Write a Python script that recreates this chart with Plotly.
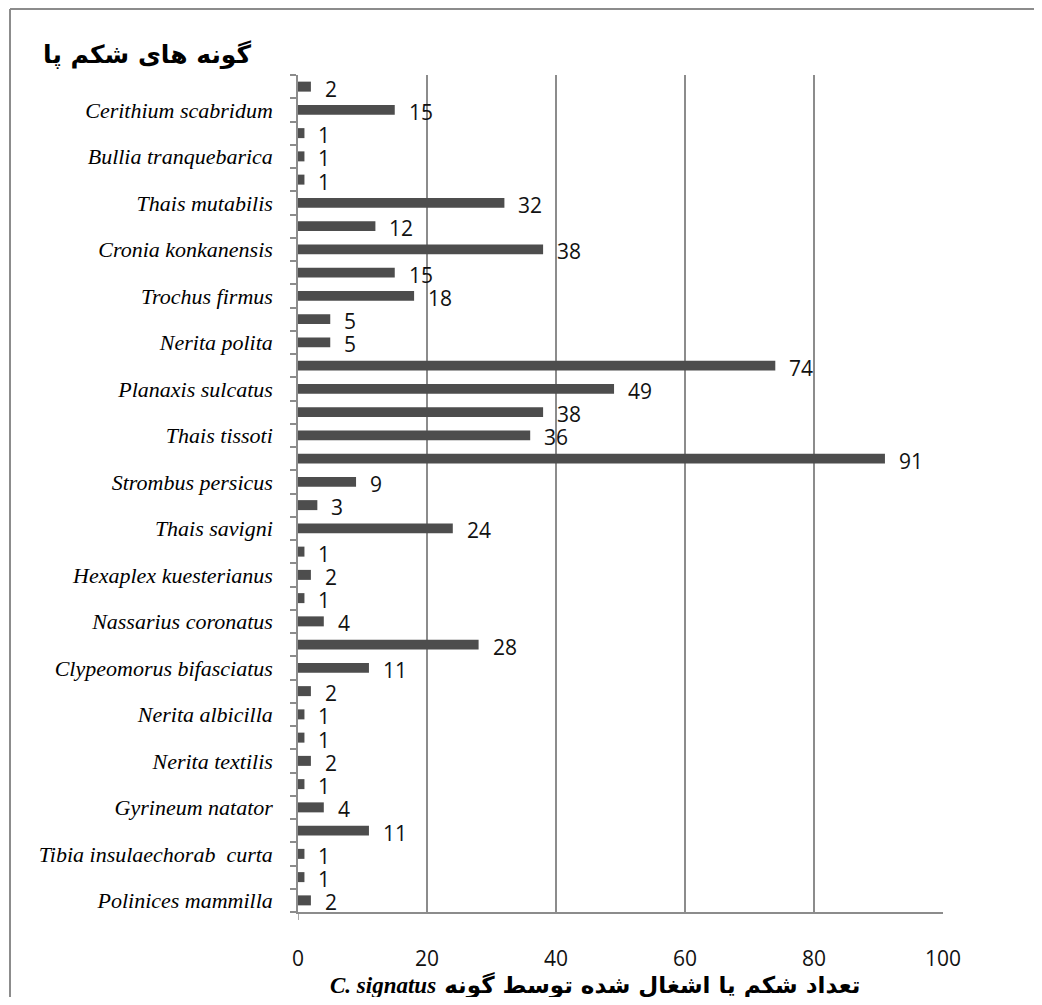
import plotly.graph_objects as go

# Categories from bottom to top ("" = category without a printed label)
categories = [
    "Polinices mammilla", "", "Tibia insulaechorab  curta", "", "Gyrineum natator", "",
    "Nerita textilis", "", "Nerita albicilla", "", "Clypeomorus bifasciatus", "",
    "Nassarius coronatus", "", "Hexaplex kuesterianus", "", "Thais savigni", "",
    "Strombus persicus", "", "Thais tissoti", "", "Planaxis sulcatus", "",
    "Nerita polita", "", "Trochus firmus", "", "Cronia konkanensis", "",
    "Thais mutabilis", "", "Bullia tranquebarica", "", "Cerithium scabridum", "",
]
values = [
    2, 1, 1, 11, 4, 1,
    2, 1, 1, 2, 11, 28,
    4, 1, 2, 1, 24, 3,
    9, 91, 36, 38, 49, 74,
    5, 5, 18, 15, 38, 12,
    32, 1, 1, 1, 15, 2,
]
x_ticks = [0, 20, 40, 60, 80, 100]
title_text = "گونه های شکم پا"
xtitle_fa = "تعداد شکم پا اشغال شده توسط گونه"
xtitle_sp = "C. signatus"

positions = list(range(len(values)))
tick_pos = [i for i, c in enumerate(categories) if c]
tick_txt = [c for c in categories if c]

OFF = 8  # page body margin
W, H = 1042 - 2 * OFF, 1005 - 2 * OFF
# plot area in page pixels: x 298..943, y 75..912
L = 298 - OFF
R = W - (943 - OFF)
T = 75 - OFF
B = H - (912 - OFF)
pw, ph = W - L - R, H - T - B


def px_x(p):
    return (p - OFF - L) / pw


def px_y(p):
    return (H - B - (p - OFF)) / ph


fig = go.Figure()
fig.add_trace(go.Bar(
    x=values, y=positions, orientation="h", width=0.43,
    marker=dict(color="#4d4d4d", line=dict(width=0)),
    hoverinfo="x",
))

annotations = []
for p, v in zip(positions, values):
    annotations.append(dict(
        x=v, y=p, xref="x", yref="y", text=str(v), showarrow=False,
        xanchor="left", yanchor="middle", xshift=12, yshift=-2,
        font=dict(family="Open Sans", size=21, color="#111"),
    ))

annotations.append(dict(
    x=px_x(41), y=px_y(55), xref="paper", yref="paper", text="<b>" + title_text + "</b>",
    showarrow=False, xanchor="left", yanchor="middle",
    font=dict(family="DejaVu Sans", size=25, color="#000"),
))
annotations.append(dict(
    x=px_x(595), y=px_y(985), xref="paper", yref="paper",
    text="<b><i><span style=\"font-family:'Liberation Serif'\">" + xtitle_sp
         + "</span></i> " + xtitle_fa + "</b>",
    showarrow=False, xanchor="center", yanchor="middle",
    font=dict(family="DejaVu Sans", size=23, color="#000"),
))

border = dict(color="#8c8c8c", width=2)
fig.update_layout(
    width=W, height=H,
    margin=dict(l=L, r=R, t=T, b=B, pad=0),
    paper_bgcolor="white", plot_bgcolor="white",
    showlegend=False,
    bargap=0.57,
    annotations=annotations,
    shapes=[
        dict(type="line", xref="paper", yref="paper",
             x0=px_x(10), x1=px_x(10), y0=px_y(1010), y1=px_y(9), line=border),
        dict(type="line", xref="paper", yref="paper",
             x0=px_x(10), x1=px_x(1042), y0=px_y(9), y1=px_y(9), line=border),
        dict(type="line", xref="x", yref="paper",
             x0=0, x1=0, y0=0, y1=px_y(920),
             line=dict(color="#8c8c8c", width=1.5)),
    ],
    xaxis=dict(
        range=[0, 100], tickvals=x_ticks, ticktext=[str(t) for t in x_ticks],
        showgrid=True, gridcolor="#8c8c8c", gridwidth=1.5,
        showline=True, linecolor="#8c8c8c", linewidth=2,
        zeroline=False,
        ticks="outside", ticklen=27, tickcolor="rgba(0,0,0,0)",
        tickfont=dict(family="Open Sans", size=21, color="#111"),
    ),
    yaxis=dict(
        range=[-0.5, len(values) - 0.5], tickmode="array",
        tickvals=tick_pos, ticktext=tick_txt,
        showgrid=False, zeroline=False,
        showline=True, linecolor="#8c8c8c", linewidth=1.5,
        ticks="outside", ticklen=19, tickcolor="rgba(0,0,0,0)",
        tickfont=dict(family="Liberation Serif", size=22, style="italic", color="#000"),
        minor=dict(tickmode="linear", tick0=0.5, dtick=1, ticks="outside",
                   ticklen=6, tickcolor="#8c8c8c", tickwidth=1.5, showgrid=False),
    ),
)

fig.write_html("out.html")
